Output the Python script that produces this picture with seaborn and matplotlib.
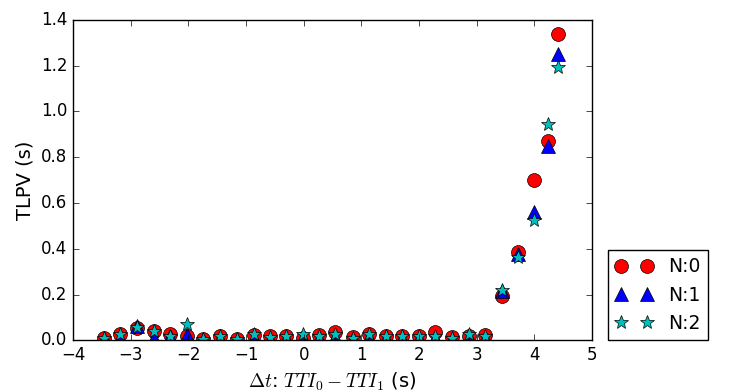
import seaborn as sns
import matplotlib
matplotlib.use('Agg')
import matplotlib.pyplot as plt

# Time offset between the two TTIs (s)
dt = [-3.46, -3.18, -2.89, -2.60, -2.32, -2.03, -1.74, -1.45, -1.16, -0.87,
      -0.59, -0.31, -0.02, 0.27, 0.55, 0.85, 1.13, 1.43, 1.71, 1.99,
      2.28, 2.57, 2.86, 3.15, 3.43, 3.72, 4.00, 4.24, 4.41]

# TLPV (s) for each N
tlpv_n0 = [0.010, 0.030, 0.055, 0.040, 0.030, 0.020, 0.005, 0.020, 0.005, 0.025,
           0.018, 0.020, 0.012, 0.022, 0.035, 0.015, 0.030, 0.020, 0.020, 0.020,
           0.035, 0.015, 0.020, 0.025, 0.195, 0.386, 0.700, 0.870, 1.340]
tlpv_n1 = [0.005, 0.010, 0.065, 0.010, 0.020, 0.025, 0.000, 0.010, 0.003, 0.010,
           0.008, 0.010, 0.010, 0.010, 0.015, 0.008, 0.015, 0.010, 0.010, 0.010,
           0.012, 0.008, 0.015, 0.012, 0.215, 0.376, 0.560, 0.850, 1.250]
tlpv_n2 = [0.010, 0.030, 0.060, 0.040, 0.020, 0.070, 0.005, 0.020, 0.005, 0.030,
           0.015, 0.020, 0.030, 0.020, 0.030, 0.010, 0.030, 0.020, 0.020, 0.020,
           0.020, 0.012, 0.030, 0.020, 0.220, 0.364, 0.525, 0.945, 1.193]

series = [(tlpv_n0, 'o', 'r', 'N:0'),
          (tlpv_n1, '^', 'b', 'N:1'),
          (tlpv_n2, '*', 'c', 'N:2')]

plt.style.use('classic')
fig, ax = plt.subplots(figsize=(7.31, 3.9), dpi=100)
fig.subplots_adjust(left=0.1, right=0.81, bottom=0.127, top=0.949)

for vals, mk, col, lab in series:
    sns.lineplot(x=dt, y=vals, ax=ax, marker=mk, linestyle='', color=col,
                 markersize=10, markeredgecolor='k', markeredgewidth=0.5,
                 errorbar=None, label=lab)

ax.set_xlim(-4, 5)
ax.set_ylim(0, 1.4)
ax.set_xlabel(r'$\Delta t$: $TTI_0 - TTI_1$ (s)', fontsize=14)
ax.set_ylabel('TLPV (s)', fontsize=14)
ax.tick_params(labelsize=12)

ax.legend(loc='lower left', bbox_to_anchor=(1.03, 0), borderaxespad=0,
          numpoints=2, fontsize=13.5, fancybox=False)

fig.savefig('out.png', dpi=100, facecolor='white')
